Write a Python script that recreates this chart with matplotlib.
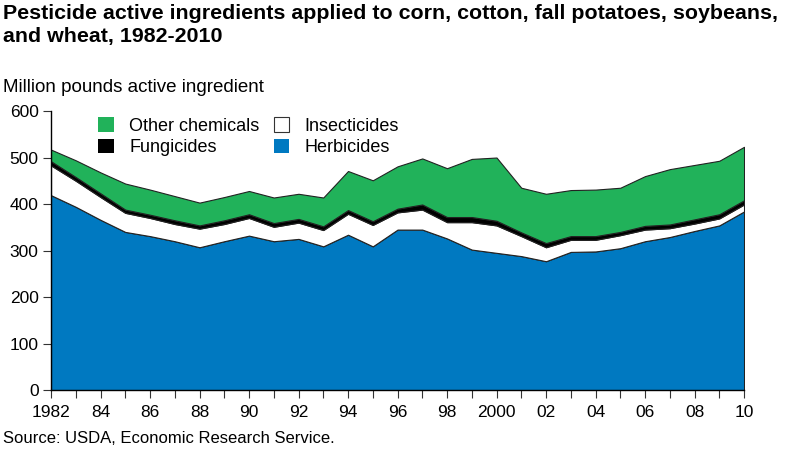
import matplotlib
matplotlib.use("Agg")
from matplotlib import pyplot as plt
from matplotlib.patches import Patch
import numpy as np

years = np.arange(1982, 2011)

herbicides = [419, 394, 366, 340, 331, 320, 307, 320, 332, 320, 325, 309, 334, 309, 345,
              345, 326, 302, 295, 288, 277, 297, 298, 305, 320, 329, 342, 354, 384]
insecticides = [64, 56, 49, 41, 39, 37, 40, 37, 38, 31, 35, 35, 45, 46, 37,
                43, 35, 59, 59, 43, 30, 26, 25, 28, 25, 19, 16, 15, 15]
fungicides = [9, 8, 8, 7, 7, 8, 7, 8, 8, 8, 8, 8, 8, 8, 8,
              11, 11, 11, 10, 8, 9, 8, 8, 7, 8, 8, 9, 9, 9]
other = [25, 36, 45, 56, 54, 52, 49, 50, 50, 55, 54, 62, 84, 88, 91,
         99, 105, 125, 136, 96, 106, 99, 100, 95, 107, 119, 117, 115, 115]

tick_years = list(range(1982, 2011, 2))
tick_labels = ["1982"] + ["%02d" % (y % 100) for y in tick_years[1:]]
tick_labels[tick_years.index(2000)] = "2000"

blue = "#0079C1"
green = "#21B25A"

plt.rcParams["font.family"] = ["Liberation Sans", "DejaVu Sans"]

fig = plt.figure(figsize=(7.86, 4.5), dpi=100)
ax = fig.add_axes([0.0649, 0.1333, 0.8817, 0.62])

ax.stackplot(years, herbicides, insecticides, fungicides, other,
             colors=[blue, "white", "black", green],
             edgecolor="#222222", linewidth=0.8)

ax.set_xlim(1982, 2010)
ax.set_ylim(0, 600)
ax.set_yticks(range(0, 601, 100))
ax.set_xticks(years)
ax.set_xticklabels([tick_labels[tick_years.index(y)] if y in tick_years else "" for y in years])
ax.tick_params(axis="both", direction="out", length=6, width=0.8, color="#333333",
               labelsize=12.5, pad=3)
ax.tick_params(axis="x", pad=5)
for s in ["top", "right"]:
    ax.spines[s].set_visible(False)
ax.spines["left"].set_linewidth(1)
ax.spines["bottom"].set_linewidth(1)

handles = [Patch(facecolor=green, edgecolor="none", label="Other chemicals"),
           Patch(facecolor="black", edgecolor="none", label="Fungicides"),
           Patch(facecolor="white", edgecolor="#333333", linewidth=0.8, label="Insecticides"),
           Patch(facecolor=blue, edgecolor="none", label="Herbicides")]
ax.legend(handles=handles, ncol=2, loc="upper left", bbox_to_anchor=(0.045, 1.035),
          frameon=False, fontsize=13, handlelength=0.85, handleheight=0.85,
          handletextpad=0.85, columnspacing=0.8, labelspacing=0.2)

fig.text(0.004, 0.992, "Pesticide active ingredients applied to corn, cotton, fall potatoes, soybeans,\nand wheat, 1982-2010",
         ha="left", va="top", fontsize=15.4, fontweight="bold", linespacing=1.3)
fig.text(0.004, 0.806, "Million pounds active ingredient", ha="left", va="center", fontsize=13.5)
fig.text(0.004, 0.025, "Source: USDA, Economic Research Service.", ha="left", va="center", fontsize=12)

fig.savefig("out.png", dpi=100)
plt.close(fig)
